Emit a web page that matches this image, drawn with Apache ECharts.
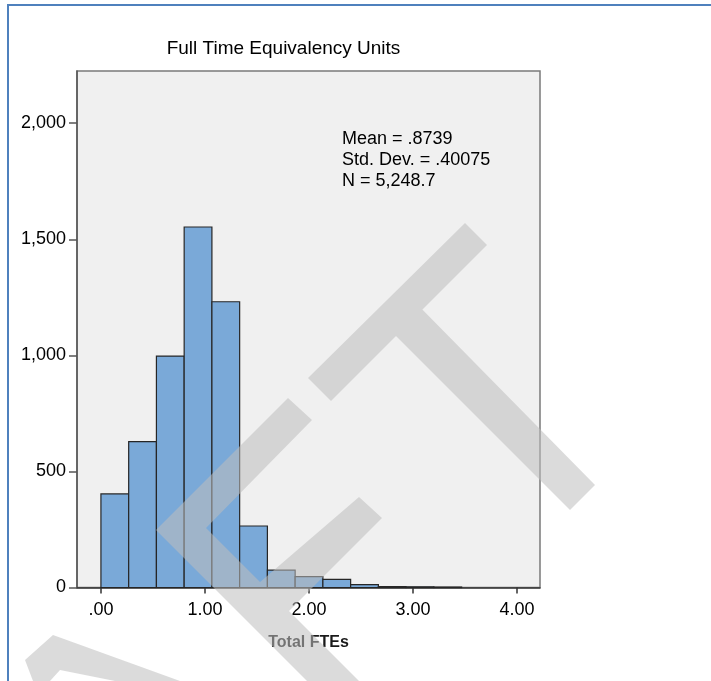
<!DOCTYPE html>
<html>
<head>
<meta charset="utf-8">
<title>Full Time Equivalency Units</title>
<script src="https://cdn.jsdelivr.net/npm/echarts@6/dist/echarts.min.js"></script>
<style>
  html, body { margin: 0; padding: 0; background: #ffffff; }
  #chart { width: 711px; height: 681px; }
</style>
</head>
<body>
<div id="chart"></div>
<script>
// Histogram of Total FTEs: bin edges and counts per bin
const binEdges = [0, 0.2667, 0.5333, 0.8, 1.0667, 1.3333, 1.6, 1.8667, 2.1333, 2.4, 2.6667, 2.9333, 3.2, 3.4667];
const binCounts = [403, 628, 997, 1553, 1231, 265, 75, 47, 35, 12, 4, 3, 2];

// Axis ticks and their printed labels
const xTicks = [0, 1, 2, 3, 4];
const xTickLabels = ['.00', '1.00', '2.00', '3.00', '4.00'];
const yTicks = [0, 500, 1000, 1500, 2000];
const yTickLabels = ['0', '500', '1,000', '1,500', '2,000'];

// Summary statistics printed inside the plot
const statLines = ['Mean = .8739', 'Std. Dev. = .40075', 'N = 5,248.7'];

const chartTitle = 'Full Time Equivalency Units';
const xAxisTitle = 'Total FTEs';

const FONT = "'Liberation Sans', Arial, sans-serif";

const histData = binCounts.map((c, i) => [binEdges[i], binEdges[i + 1], c]);

const chart = echarts.init(document.getElementById('chart'), null, { renderer: 'canvas' });

// Large translucent grey strokes laid over the whole page (one path, one fill)
const overlayPath =
  'M465 223 L487 245 L331 401 L308 378 Z ' +
  'M412 299 L595 485 L570 510 L386 326 Z ' +
  'M156 530 L288 398 L312 420 L206 528 L380 702 L328 702 Z ' +
  'M359 497 L382 518 L275 625 L245 595 Z ' +
  'M53 635 L180 681 L115 681 L60 670 L50 681 L33 681 L25 660 Z';

chart.setOption({
  animation: false,
  backgroundColor: '#ffffff',
  grid: {
    left: 77, top: 71, right: 171, bottom: 93.5,
    show: true,
    backgroundColor: '#f0f0f0',
    borderColor: '#7a7a7a',
    borderWidth: 1.5
  },
  xAxis: {
    type: 'value',
    min: -0.23,
    max: 4.22,
    name: xAxisTitle,
    nameLocation: 'middle',
    nameGap: 47,
    nameTextStyle: { fontFamily: FONT, fontSize: 16, fontWeight: 'bold', color: '#1a1a1a' },
    axisLine: { show: true, onZero: false, lineStyle: { color: '#333333', width: 1.5 } },
    axisTick: { show: true, length: 6, customValues: xTicks, lineStyle: { color: '#333333', width: 1.5 } },
    axisLabel: {
      customValues: xTicks,
      margin: 14,
      fontFamily: FONT, fontSize: 18, color: '#000000',
      formatter: v => xTickLabels[xTicks.indexOf(v)] ?? ''
    },
    splitLine: { show: false }
  },
  yAxis: {
    type: 'value',
    min: 0,
    max: 2225,
    axisLine: { show: true, onZero: false, lineStyle: { color: '#555555', width: 1.5 } },
    axisTick: { show: true, length: 8, customValues: yTicks, lineStyle: { color: '#555555', width: 1.5 } },
    axisLabel: {
      customValues: yTicks,
      margin: 11,
      fontFamily: FONT, fontSize: 18, color: '#000000',
      formatter: v => yTickLabels[yTicks.indexOf(v)] ?? ''
    },
    splitLine: { show: false }
  },
  series: [
    {
      type: 'custom',
      data: histData,
      encode: { x: [0, 1], y: 2 },
      renderItem: (params, api) => {
        const p0 = api.coord([api.value(0), api.value(2)]);
        const p1 = api.coord([api.value(1), 0]);
        return {
          type: 'rect',
          shape: { x: p0[0], y: p0[1], width: p1[0] - p0[0], height: p1[1] - p0[1] },
          style: { fill: '#7aa9d8', stroke: '#262626', lineWidth: 1.2 }
        };
      }
    },
    {
      type: 'custom',
      coordinateSystem: 'none',
      silent: true,
      z: 100,
      data: [0],
      renderItem: () => ({
        type: 'path',
        shape: { pathData: overlayPath },
        style: { fill: 'rgba(190,190,190,0.55)' }
      })
    }
  ],
  graphic: [
    {
      type: 'rect',
      shape: { x: 8, y: 5, width: 800, height: 800 },
      style: { fill: 'none', stroke: '#4f81bd', lineWidth: 2 },
      z: 0
    },
    {
      type: 'text',
      x: 283.5, y: 49,
      style: {
        text: chartTitle,
        fontFamily: FONT, fontSize: 19, fill: '#000000',
        align: 'center', verticalAlign: 'middle'
      },
      z: 10
    },
    {
      type: 'text',
      x: 342, y: 128.5,
      style: {
        text: statLines.join('\n'),
        fontFamily: FONT, fontSize: 18, lineHeight: 21, fill: '#000000',
        align: 'left', verticalAlign: 'top'
      },
      z: 10
    }
  ]
});
</script>
</body>
</html>
